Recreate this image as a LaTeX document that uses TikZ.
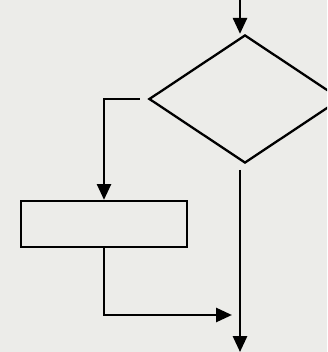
\documentclass[tikz,border=0pt]{standalone}
\usetikzlibrary{arrows.meta,shapes.geometric,positioning}
\definecolor{fg}{RGB}{0,0,0}
\definecolor{bg}{RGB}{236,236,233}
\tikzset{
  every picture/.style={fg, line width=0.65pt, line join=miter,
    >={Triangle[length=4.5pt,width=4pt]}},
  % Knoten
  cond/.style={diamond, draw, inner sep=0pt, aspect=1.5,
    minimum width=1.92cm, minimum height=1.28cm},
  proc/.style={rectangle, draw, inner sep=0pt,
    minimum width=1.66cm, minimum height=0.46cm},
  % Verbindungen
  flow/.style={->},
}

\begin{document}
\begin{tikzpicture}[x={(0.01cm,0)}, y={(0,-0.01cm)}]
  % Hintergrund
  \fill[bg] (0,0) rectangle (327,352);
  \useasboundingbox (0,0) rectangle (327,352);
  \clip (0,0) rectangle (327,352);
  % Knoten
  \node[cond] (test) at (245,99) {};
  \node[proc] (step) at (104,224) {};
  \coordinate (in) at (240,0);
  \coordinate (below) at (240,170);
  \coordinate (join) at (240,315);
  \coordinate (out) at (240,352);
  % Verbindungen
  \draw[flow] (in) -- (in |- test.north);
  \draw[flow, shorten <=2.3pt] (test.west) -| (step.north);
  \draw[flow, shorten >=2.3pt] (step.south) |- (join);
  \draw[flow] (below) -- (out);
\end{tikzpicture}
\end{document}
